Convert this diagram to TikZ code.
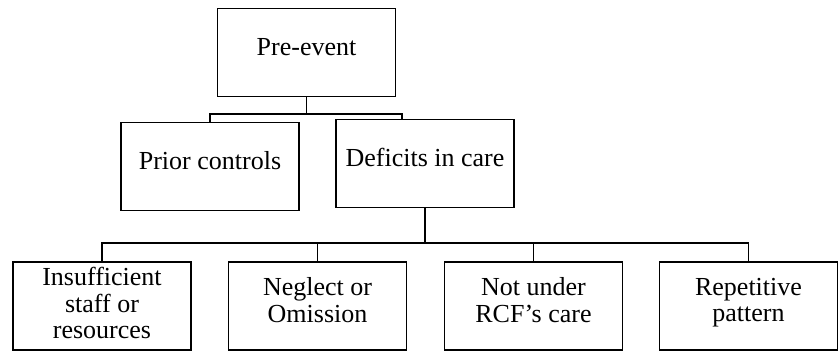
\documentclass[tikz,border=0pt]{standalone}
\usepackage{fontspec}
\setmainfont{Liberation Serif}
\begin{document}
\begin{tikzpicture}[x=1pt,y=-1pt,
  box/.style={draw=black,line width=1.6pt,minimum width=178pt,minimum height=88pt,inner sep=0pt,
    align=center,font=\fontsize{26}{26.5}\selectfont},
  top/.style={box,text depth=12pt},
  link/.style={draw=black,line width=1.6pt}]
\useasboundingbox (0,0) rectangle (840,352);
\node[top] (pre) at (306.5,52.5) {Pre-event};
\node[top] (prior) at (210,166.5) {Prior controls};
\node[top] (def) at (425,163.5) {Deficits in care};
\node[box,text depth=6pt] (ins) at (102,306) {Insufficient\\staff or\\resources};
\node[box,text depth=12pt] (neg) at (317.5,306) {Neglect or\\Omission};
\node[box,text depth=12pt] (not) at (533.5,306) {Not under\\RCF’s care};
\node[box,text depth=12pt] (rep) at (748.5,306) {Repetitive\\pattern};
\coordinate (j1) at (306.5,114);
\coordinate (j1r) at (402,114);
\coordinate (j2) at (425,243);
\draw[link] (pre.south) -- (j1);
\draw[link] (prior.north) |- (j1r) -- (j1r |- def.north);
\draw[link] (def.south) -- (j2);
\draw[link] (ins.north) |- (j2) -| (rep.north);
\draw[link] (neg.north) -- (neg.north |- j2);
\draw[link] (not.north) -- (not.north |- j2);
\end{tikzpicture}
\end{document}
